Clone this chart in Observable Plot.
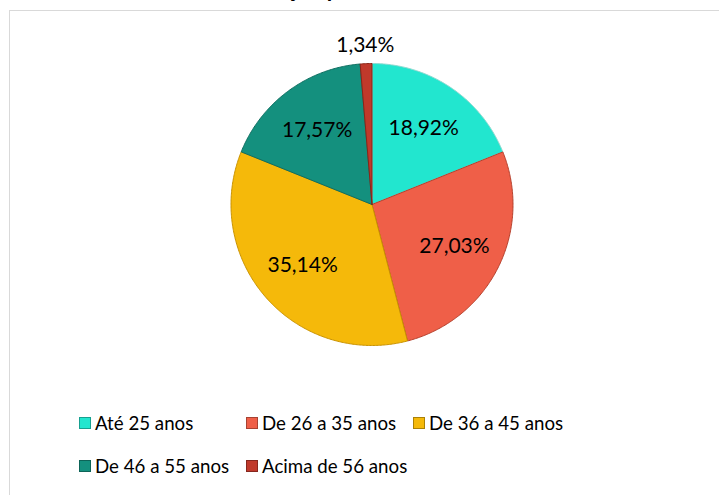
<!DOCTYPE html>
<html>
<head>
<meta charset="utf-8">
<script src="https://cdn.jsdelivr.net/npm/d3@7"></script>
<script src="https://cdn.jsdelivr.net/npm/@observablehq/plot@0.6"></script>
<style>
  html, body { margin: 0; padding: 0; background: #fff; }
  #wrap { position: relative; width: 719px; height: 495px; overflow: hidden; font-family: Lato, "Open Sans", sans-serif; }
  #frame { position: absolute; left: 9px; top: 10px; width: 740px; height: 520px; border: 1px solid #d9d9d9; box-sizing: border-box; }
  #title { position: absolute; left: 90px; top: -22px; font-size: 22px; line-height: 22px; font-weight: bold; color: #000; white-space: nowrap; }
  #chart { position: absolute; left: 0; top: 0; }
  #legend { position: absolute; left: 79px; top: 401px; width: 620px; display: flex; flex-wrap: wrap; }
  .item { width: 167px; height: 43px; display: flex; align-items: center; font-size: 18.7px; color: #000; white-space: nowrap; }
  .sw { width: 12px; height: 12px; margin-right: 4px; box-sizing: border-box; border: 1px solid rgba(0,0,0,0.3); }
</style>
</head>
<body>
<div id="wrap">
  <div id="frame"></div>
  <div id="title">Gráfico 2 – Distribuição por faixa etária</div>
  <div id="chart"></div>
  <div id="legend"></div>
</div>
<script>
const categories = ["Até 25 anos", "De 26 a 35 anos", "De 36 a 45 anos", "De 46 a 55 anos", "Acima de 56 anos"];
const values = [18.92, 27.03, 35.14, 17.57, 1.34];
const colors = ["#22e6cf", "#ef5f48", "#f5b90a", "#14907e", "#c0392b"];
const strokes = ["#8fd9cf", "#b5402c", "#c99200", "#0e6e60", "#8a2518"];

const fmt = v => v.toFixed(2).replace(".", ",") + "%";

const arcs = d3.pie().sort(null).value(d => d)(values);

// slice outlines (geometry from d3.pie angles)
const pts = [];
arcs.forEach((a, i) => {
  const cat = categories[i];
  pts.push({cat, x: 0, y: 0});
  const n = Math.max(2, Math.ceil((a.endAngle - a.startAngle) / 0.01));
  for (let k = 0; k <= n; k++) {
    const t = a.startAngle + (a.endAngle - a.startAngle) * k / n;
    pts.push({cat, x: Math.sin(t), y: Math.cos(t)});
  }
  pts.push({cat, x: 0, y: 0});
});

const labels = arcs.map((a, i) => {
  const mid = (a.startAngle + a.endAngle) / 2;
  const r = values[i] < 5 ? 1.13 : 0.655;
  return {cat: categories[i], x: r * Math.sin(mid), y: r * Math.cos(mid), text: fmt(values[i])};
});

const strokeMap = new Map(categories.map((c, i) => [c, strokes[i]]));

const chart = Plot.plot({
  width: 719,
  height: 495,
  marginLeft: 230.5,
  marginRight: 206.5,
  marginTop: 63,
  marginBottom: 150,
  x: {domain: [-1, 1], axis: null},
  y: {domain: [-1, 1], axis: null},
  color: {type: "ordinal", domain: categories, range: colors},
  style: {background: "transparent", overflow: "visible"},
  marks: [
    Plot.line(pts, {x: "x", y: "y", z: "cat", fill: "cat", stroke: d => strokeMap.get(d.cat), strokeWidth: 1, strokeLinejoin: "round"}),
    Plot.text(labels, {x: "x", y: "y", text: "text", fontSize: 21, fill: "#000", fontFamily: "Lato, sans-serif"})
  ]
});
document.getElementById("chart").appendChild(chart);

const legend = document.getElementById("legend");
categories.forEach((c, i) => {
  const it = document.createElement("div");
  it.className = "item";
  const sw = document.createElement("span");
  sw.className = "sw";
  sw.style.background = colors[i];
  const tx = document.createElement("span");
  tx.textContent = c;
  it.appendChild(sw);
  it.appendChild(tx);
  legend.appendChild(it);
});
</script>
</body>
</html>
